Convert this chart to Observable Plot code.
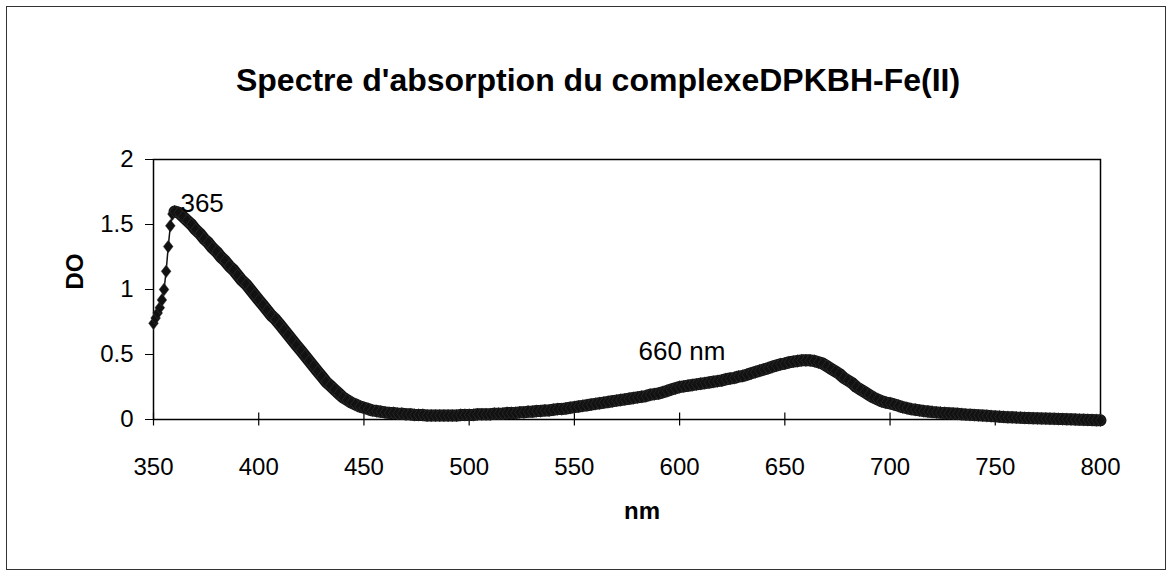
<!DOCTYPE html>
<html><head><meta charset="utf-8">
<script src="https://cdn.jsdelivr.net/npm/d3@7"></script>
<script src="https://cdn.jsdelivr.net/npm/@observablehq/plot@0.6"></script>
<style>
body{margin:0;background:#fff;}
#wrap{position:relative;width:1172px;height:577px;overflow:hidden;background:#fff;}
#border{position:absolute;left:6px;top:6px;width:1160px;height:564px;border:1px solid #333;box-sizing:border-box;}
#chart{position:absolute;left:0;top:0;}
</style></head><body>
<div id="wrap"><div id="chart"></div><div id="border"></div></div>
<script>
const title = "Spectre d'absorption du complexeDPKBH-Fe(II)";
const xLabel = "nm";
const yLabel = "DO";
const xTicks = [350, 400, 450, 500, 550, 600, 650, 700, 750, 800];
const yTicks = [0, 0.5, 1, 1.5, 2];

// steep rise, sampled every 1 nm
const riseWavelengths = [350, 351, 352, 353, 354, 355, 356, 357, 358, 359];
const riseValues = [0.74, 0.78, 0.82, 0.86, 0.92, 1.00, 1.14, 1.33, 1.49, 1.58];

// rest of the spectrum, sampled every 2 nm from 360 nm
const bodyStart = 360;
const bodyStep = 2;
const bodyValues = [
  1.60, 1.59, 1.56, 1.53, 1.50, 1.46, 1.43, 1.39, 1.36, 1.32, // 360-378
  1.29, 1.25, 1.22, 1.18, 1.15, 1.11, 1.07, 1.04, 1.00, 0.96, // 380-398
  0.92, 0.88, 0.84, 0.80, 0.77, 0.73, 0.69, 0.65, 0.61, 0.57, // 400-418
  0.53, 0.49, 0.45, 0.41, 0.37, 0.33, 0.29, 0.26, 0.23, 0.20, // 420-438
  0.17, 0.15, 0.13, 0.115, 0.10, 0.09, 0.08, 0.07, 0.065, 0.06, // 440-458
  0.055, 0.05, 0.05, 0.045, 0.045, 0.04, 0.04, 0.035, 0.035, 0.035, // 460-478
  0.03, 0.03, 0.03, 0.03, 0.03, 0.03, 0.03, 0.03, 0.035, 0.035, // 480-498
  0.035, 0.035, 0.04, 0.04, 0.04, 0.04, 0.045, 0.045, 0.045, 0.05, // 500-518
  0.05, 0.05, 0.055, 0.055, 0.06, 0.06, 0.065, 0.065, 0.07, 0.07, // 520-538
  0.075, 0.08, 0.08, 0.085, 0.09, 0.095, 0.10, 0.105, 0.11, 0.115, // 540-558
  0.12, 0.125, 0.13, 0.135, 0.14, 0.145, 0.15, 0.155, 0.16, 0.165, // 560-578
  0.17, 0.175, 0.18, 0.19, 0.195, 0.20, 0.21, 0.22, 0.23, 0.24, // 580-598
  0.25, 0.255, 0.26, 0.265, 0.27, 0.275, 0.28, 0.285, 0.29, 0.295, // 600-618
  0.30, 0.31, 0.315, 0.32, 0.33, 0.335, 0.345, 0.355, 0.365, 0.375, // 620-638
  0.385, 0.395, 0.405, 0.415, 0.425, 0.43, 0.44, 0.445, 0.45, 0.455, // 640-658
  0.455, 0.455, 0.45, 0.44, 0.43, 0.41, 0.39, 0.37, 0.35, 0.32, // 660-678
  0.30, 0.28, 0.25, 0.23, 0.21, 0.19, 0.17, 0.155, 0.14, 0.13, // 680-698
  0.125, 0.115, 0.105, 0.095, 0.088, 0.08, 0.075, 0.07, 0.065, 0.062, // 700-718
  0.058, 0.055, 0.052, 0.05, 0.048, 0.046, 0.044, 0.041, 0.038, 0.036, // 720-738
  0.034, 0.032, 0.03, 0.028, 0.026, 0.024, 0.022, 0.02, 0.018, 0.017, // 740-758
  0.015, 0.014, 0.012, 0.011, 0.01, 0.009, 0.008, 0.007, 0.006, 0.005, // 760-778
  0.004, 0.003, 0.002, 0.001, 0.0, -0.001, -0.002, -0.003, -0.004, -0.005, // 780-798
  -0.006 // 800
];

const annotations = [
  {x: 362.8, y: 1.66, text: "365"},
  {x: 580.5, y: 0.52, text: "660 nm"}
];

const rise = riseWavelengths.map((w, i) => ({nm: w, DO: riseValues[i]}));
const body = bodyValues.map((v, i) => ({nm: bodyStart + i * bodyStep, DO: v}));
const data = [...rise, ...body];

const diamond = {
  draw(ctx, size) {
    const r = Math.sqrt(size / Math.PI);
    const w = r * 0.85, h = r * 1.1;
    ctx.moveTo(0, -h); ctx.lineTo(w, 0); ctx.lineTo(0, h); ctx.lineTo(-w, 0); ctx.closePath();
  }
};

const font = "'Liberation Sans', Arial, Helvetica, sans-serif";

const chart = Plot.plot({
  width: 1172,
  height: 577,
  marginLeft: 153,
  marginRight: 72,
  marginTop: 159,
  marginBottom: 158,
  style: {fontFamily: font, fontSize: "24px", color: "#000", background: "transparent", overflow: "visible"},
  x: {domain: [350, 800], ticks: xTicks, tickSize: 0, tickPadding: 38, tickFormat: d => String(d), label: null},
  y: {domain: [0, 2], ticks: yTicks, tickSize: 8, tickPadding: 12, tickFormat: d => String(d), label: null},
  marks: [
    Plot.frame({stroke: "#000", strokeWidth: 1.5}),
    Plot.ruleX(xTicks, {y1: -0.05, y2: 0.05, stroke: "#000", strokeWidth: 1.2}),
    Plot.line(data, {x: "nm", y: "DO", stroke: "#111", strokeWidth: 1.5}),
    Plot.line(body, {x: "nm", y: "DO", stroke: "#111", strokeWidth: 12, strokeLinejoin: "round", strokeLinecap: "round"}),
    Plot.dot(data, {x: "nm", y: "DO", symbol: diamond, r: 5.8, fill: "#111", stroke: "#444", strokeWidth: 0.4}),
    Plot.text(annotations, {x: "x", y: "y", text: "text", textAnchor: "start", fontSize: 26, letterSpacing: 1, fill: "#000"}),
    Plot.text([title], {frameAnchor: "top", dy: -91, dx: -29, fontSize: 32, fontWeight: "bold", fill: "#000"}),
    Plot.text([yLabel], {frameAnchor: "left", dx: -78, rotate: -90, fontSize: 24, fontWeight: "bold", fill: "#000"}),
    Plot.text([xLabel], {frameAnchor: "bottom", dy: 99, dx: 15, fontSize: 24, fontWeight: "bold", fill: "#000"})
  ]
});
document.getElementById("chart").appendChild(chart);
</script>
</body></html>
